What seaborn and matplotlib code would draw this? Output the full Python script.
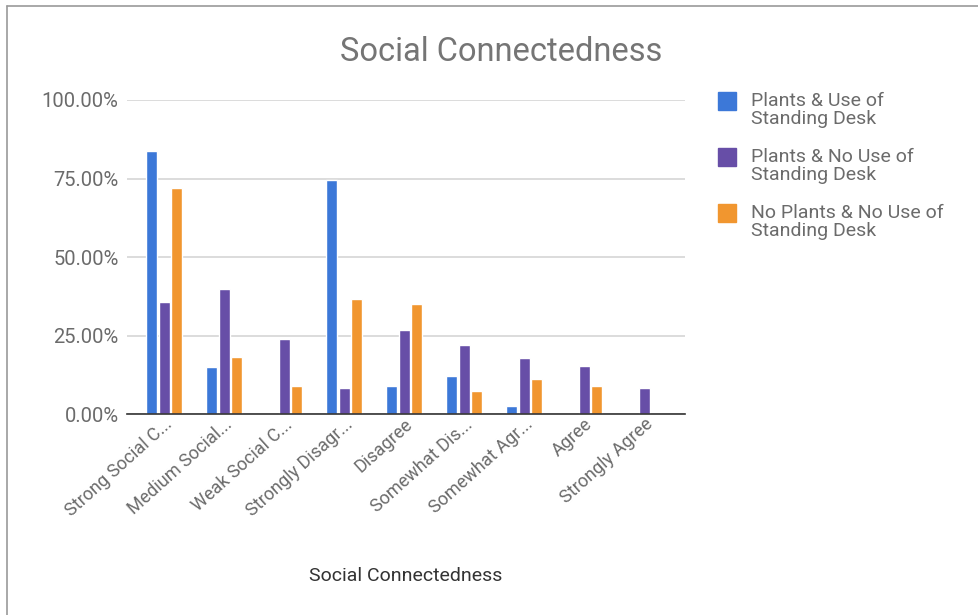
import pandas as pd
import seaborn as sns
import matplotlib.pyplot as plt
from matplotlib.patches import Rectangle
from matplotlib.ticker import FuncFormatter

# Data
categories = ["Strong Social C...", "Medium Social...", "Weak Social C...",
              "Strongly Disagr...", "Disagree", "Somewhat Dis...",
              "Somewhat Agr...", "Agree", "Strongly Agree"]
series_names = ["Plants & Use of\nStanding Desk",
                "Plants & No Use of\nStanding Desk",
                "No Plants & No Use of\nStanding Desk"]
plants_desk = [0.839, 0.151, 0.0, 0.746, 0.090, 0.122, 0.026, 0.0, 0.0]
plants_no_desk = [0.357, 0.397, 0.240, 0.084, 0.268, 0.220, 0.179, 0.152, 0.084]
no_plants_no_desk = [0.720, 0.183, 0.090, 0.365, 0.349, 0.074, 0.111, 0.090, 0.0]
colors = ["#3c78d8", "#674ea7", "#f1962f"]

df = pd.DataFrame({
    "category": categories * 3,
    "series": [series_names[0]] * 9 + [series_names[1]] * 9 + [series_names[2]] * 9,
    "value": plants_desk + plants_no_desk + no_plants_no_desk,
})

sns.set_style("white")
plt.rcParams['font.family'] = ['Roboto', 'DejaVu Sans']
text_gray = "#6b6b6b"

fig = plt.figure(figsize=(9.79, 6.15), dpi=100)
ax = fig.add_axes([0.1297, 0.3268, 0.570, 0.5106])

sns.barplot(data=df, x="category", y="value", hue="series", palette=colors,
            width=0.63, gap=0.1, ax=ax, errorbar=None, saturation=1,
            legend=False)

ax.set_ylim(0, 1.0)
ax.set_xlim(-0.62, 8.68)
ax.set_yticks([0, 0.25, 0.5, 0.75, 1.0])
ax.yaxis.set_major_formatter(FuncFormatter(lambda v, p: f"{v * 100:.2f}%"))
ax.grid(axis="y", color="#d6d6d6", linewidth=1.2)
ax.set_axisbelow(True)
for s in ["top", "right", "left"]:
    ax.spines[s].set_visible(False)
ax.spines["bottom"].set_color("#333333")
ax.spines["bottom"].set_linewidth(1.2)
ax.tick_params(axis="y", length=0, labelsize=14.5, colors=text_gray, pad=6)
ax.tick_params(axis="x", length=0, labelsize=13, colors=text_gray, pad=1)
plt.setp(ax.get_xticklabels(), rotation=42, ha="right", rotation_mode="anchor")

ax.set_ylabel("")
ax.set_xlabel("Social Connectedness", fontsize=14, color="#333333")
ax.xaxis.set_label_coords(0.5, -0.487)

fig.text(0.512, 0.915, "Social Connectedness", fontsize=23.5, color="#757575",
         ha="center", va="center")

# legend: square aligned with the first line of each label
for i, name in enumerate(series_names):
    top = 92 + 56 * i
    fig.add_artist(Rectangle((718 / 979, 1 - (top + 18) / 615), 18 / 979, 18 / 615,
                             transform=fig.transFigure, color=colors[i]))
    fig.text(751 / 979, 1 - top / 615, name, fontsize=14, color=text_gray,
             ha="left", va="top", linespacing=1.0)

# card border on the top and left
fig.add_artist(plt.Line2D([0.007, 0.007], [0, 0.99], color="#9a9a9a", lw=1.2))
fig.add_artist(plt.Line2D([0.007, 1.0], [0.99, 0.99], color="#9a9a9a", lw=1.2))

fig.savefig("out.png", dpi=100)
